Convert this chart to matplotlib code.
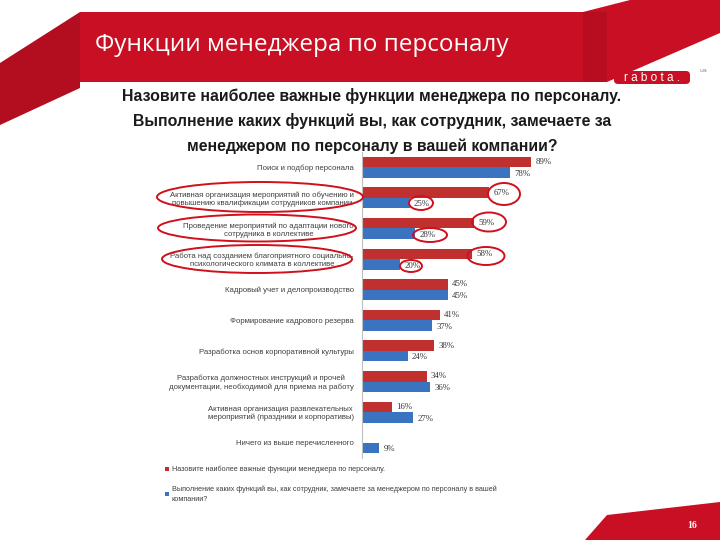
import matplotlib.pyplot as plt
import numpy as np
from matplotlib.patches import Polygon, Ellipse, FancyBboxPatch

# Data
categories = [
    'Поиск и подбор персонала',
    'Активная организация мероприятий по обучению и\nповышению квалификации сотрудников компании',
    'Проведение мероприятий по адаптации нового\nсотрудника в коллективе',
    'Работа над созданием благоприятного социально-\nпсихологического климата в коллективе',
    'Кадровый учет и делопроизводство',
    'Формирование кадрового резерва',
    'Разработка основ корпоративной культуры',
    'Разработка должностных инструкций и прочей\nдокументации, необходимой для приема на работу',
    'Активная организация развлекательных\nмероприятий (праздники и корпоративы)',
    'Ничего из выше перечисленного',
]
important = [89, 67, 59, 58, 45, 41, 38, 34, 16, None]
observed = [78, 25, 28, 20, 45, 37, 24, 36, 27, 9]

series_names = [
    'Назовите наиболее важные функции менеджера по персоналу.',
    'Выполнение каких функций вы, как сотрудник, замечаете за менеджером по персоналу в вашей\nкомпании?',
]
slide_title = 'Функции менеджера по персоналу'
question = ('Назовите наиболее важные функции менеджера по персоналу.\n'
            'Выполнение каких функций вы, как сотрудник, замечаете за\n'
            'менеджером по персоналу в вашей компании?')
page_number = '16'

RED = '#C0302E'
BLUE = '#3A73C0'
BANNER = '#C80F24'
W, H = 720, 540

fig = plt.figure(figsize=(7.2, 5.4), dpi=100)

# Background layer in pixel coordinates
bg = fig.add_axes([0, 0, 1, 1])
bg.set_xlim(0, W)
bg.set_ylim(H, 0)
bg.axis('off')

bg.add_patch(Polygon([(0, 63), (80, 12), (80, 88), (0, 125)],
                     closed=True, color='#B30E1F', lw=0))
bg.add_patch(Polygon([(80, 12), (583, 12), (630, 0), (720, 0), (720, 33),
                      (607, 82), (80, 82)], closed=True, color=BANNER, lw=0))
bg.add_patch(Polygon([(583, 12), (607, 12), (607, 82), (583, 82)],
                     closed=True, color='#B80D20', lw=0))
bg.add_patch(Polygon([(585, 540), (607, 515), (720, 502), (720, 540)],
                     closed=True, color=BANNER, lw=0))

bg.text(95, 45, slide_title, color='white', fontsize=17.5,
        family=['Open Sans', 'DejaVu Sans'], va='center', ha='left')

# logo
bg.add_patch(FancyBboxPatch((614, 71), 76, 13,
                            boxstyle='round,pad=0,rounding_size=4',
                            color=BANNER, lw=0))
bg.text(652, 78, 'r a b o t a .', color='white', fontsize=8.5,
        family=['Liberation Sans', 'DejaVu Sans'], ha='center', va='center')
bg.text(700, 70, 'ua', color='#888888', fontsize=4.5, ha='left',
        va='center')

bg.text(372, 121, question, ha='center', va='center', fontsize=11.4,
        fontweight='bold', linespacing=1.75, color='#1a1a1a',
        family=['Liberation Sans', 'DejaVu Sans'])

bg.text(692, 525, page_number, color='white', fontsize=7,
        fontweight='bold', family=['Liberation Serif', 'DejaVu Serif'],
        ha='center', va='center')

# Chart
ax = fig.add_axes([362 / W, 1 - 458 / H, 190 / W, 306 / H])
ax.patch.set_alpha(0)
y = np.arange(len(categories))
bh = 0.34
red_vals = [v if v is not None else 0 for v in important]
bars_r = ax.barh(y - bh / 2, red_vals, height=bh, color=RED)
bars_b = ax.barh(y + bh / 2, observed, height=bh, color=BLUE)

lab_font = dict(fontsize=6.3, color='#333333',
                family=['Liberation Serif', 'DejaVu Serif'])
for i, v in enumerate(important):
    if v is not None:
        ax.annotate(f'{v}%', (v, i - bh / 2), xytext=(3, 0),
                    textcoords='offset points', va='center', **lab_font)
for i, v in enumerate(observed):
    ax.annotate(f'{v}%', (v, i + bh / 2), xytext=(3, -1),
                textcoords='offset points', va='center', **lab_font)

ax.set_xlim(0, 100)
ax.set_ylim(len(categories) - 0.5, -0.5)
ax.set_yticks(y)
ax.set_yticklabels(categories, fontsize=5.6, color='#404040',
                   family=['Liberation Sans', 'DejaVu Sans'],
                   multialignment='center')
ax.tick_params(axis='y', length=0, pad=6)
ax.set_xticks([])
for s in ['top', 'right', 'bottom']:
    ax.spines[s].set_visible(False)
ax.spines['left'].set_color('#BFBFBF')

# Legend
leg = ax.legend([bars_r, bars_b], series_names, loc='upper left',
                bbox_to_anchor=((158 - 362) / 190, -0.005),
                frameon=False, handlelength=0.6,
                handleheight=0.6, handletextpad=0.4, labelspacing=1.7,
                prop={'family': ['Liberation Sans', 'DejaVu Sans'],
                      'size': 5.2})
for t in leg.get_texts():
    t.set_color('#404040')
    t.set_linespacing(1.5)

# Hand-drawn red marks
marks = [(260, 197, 206, 30), (257, 228, 198, 27), (257, 259, 190, 28),
         (504, 194, 32, 22), (421, 203, 24, 14), (489, 222, 34, 19),
         (430, 235, 34, 14), (486, 256, 37, 18), (411, 266, 22, 12)]
for cx, cy, ew, eh in marks:
    bg.add_patch(Ellipse((cx, cy), ew, eh, fill=False, ec='#D0101C',
                         lw=1.4, zorder=10))
bg.set_zorder(ax.get_zorder() + 1)
bg.patch.set_alpha(0)

fig.savefig('out.png', dpi=100)
